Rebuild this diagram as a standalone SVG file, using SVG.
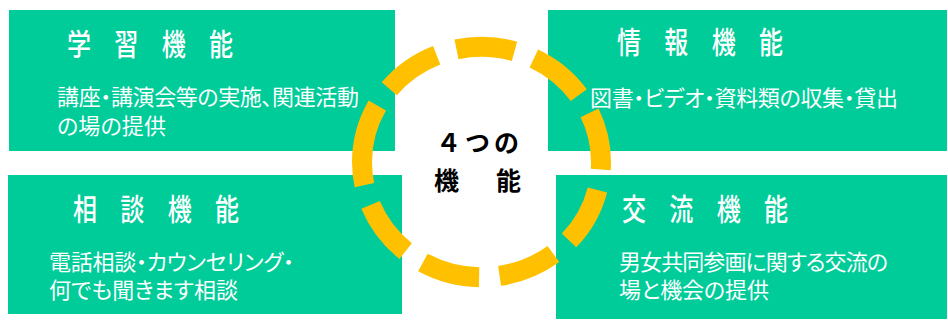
<svg xmlns="http://www.w3.org/2000/svg" width="948" height="320" viewBox="0 0 948 320">
  <style>
    .box { fill: #00CC99; }
    .title { fill: #FFFFFF; font-family: "Noto Sans", "Noto Sans CJK JP", sans-serif; font-size: 30px; font-weight: 500; letter-spacing: 10.7px; }
    .body { fill: #FFFFFF; font-family: "Noto Sans", "Noto Sans CJK JP", sans-serif; font-size: 22px; font-feature-settings: "palt"; }
    .center { fill: #000000; font-family: "Noto Sans", "Noto Sans CJK JP", sans-serif; font-size: 25px; font-weight: bold; }
    .ring { fill: none; stroke: #FFC000; stroke-width: 20; stroke-dasharray: 3.7 10.1 28.6 10.1 28.6 10.1 28.6 10.1 28.6 10.1 40.3 10.1 28.6 10.1 28.6 10.1 28.6 10.1 24.9 0; }
  </style>
  <rect width="948" height="320" fill="#FFFFFF"/>
  <g id="learning">
    <rect class="box" x="9" y="10" width="386" height="141"/>
    <text class="title" transform="translate(67,55) scale(0.8,1)">学 習 機 能</text>
    <text class="body" x="57" y="105" textLength="302" lengthAdjust="spacing">講座・講演会等の実施、関連活動</text>
    <text class="body" x="57" y="134" textLength="109" lengthAdjust="spacing">の場の提供</text>
  </g>
  <g id="information">
    <rect class="box" x="548" y="10" width="399" height="141"/>
    <text class="title" transform="translate(617,53) scale(0.8,1)">情 報 機 能</text>
    <text class="body" x="590" y="106" textLength="308" lengthAdjust="spacing">図書・ビデオ・資料類の収集・貸出</text>
  </g>
  <g id="consultation">
    <rect class="box" x="8" y="175" width="394" height="139"/>
    <text class="title" transform="translate(73,220) scale(0.8,1)">相 談 機 能</text>
    <text class="body" x="49" y="270" textLength="245" lengthAdjust="spacing">電話相談・カウンセリング・</text>
    <text class="body" x="49" y="298" textLength="189" lengthAdjust="spacing">何でも聞きます相談</text>
  </g>
  <g id="exchange">
    <rect class="box" x="556" y="175" width="391" height="144"/>
    <text class="title" transform="translate(622,220) scale(0.8,1)">交 流 機 能</text>
    <text class="body" x="619" y="270" textLength="269" lengthAdjust="spacing">男女共同参画に関する交流の</text>
    <text class="body" x="619" y="298" textLength="150" lengthAdjust="spacing">場と機会の提供</text>
  </g>
  <g id="connectors"></g>
  <g id="center">
    <ellipse class="ring" cx="481.5" cy="162" rx="119.5" ry="115.2" pathLength="360"/>
    <text class="center" x="436" y="152" textLength="83" lengthAdjust="spacing">４つの</text>
    <text class="center" x="434" y="190" textLength="87" lengthAdjust="spacing">機　能</text>
  </g>
</svg>
